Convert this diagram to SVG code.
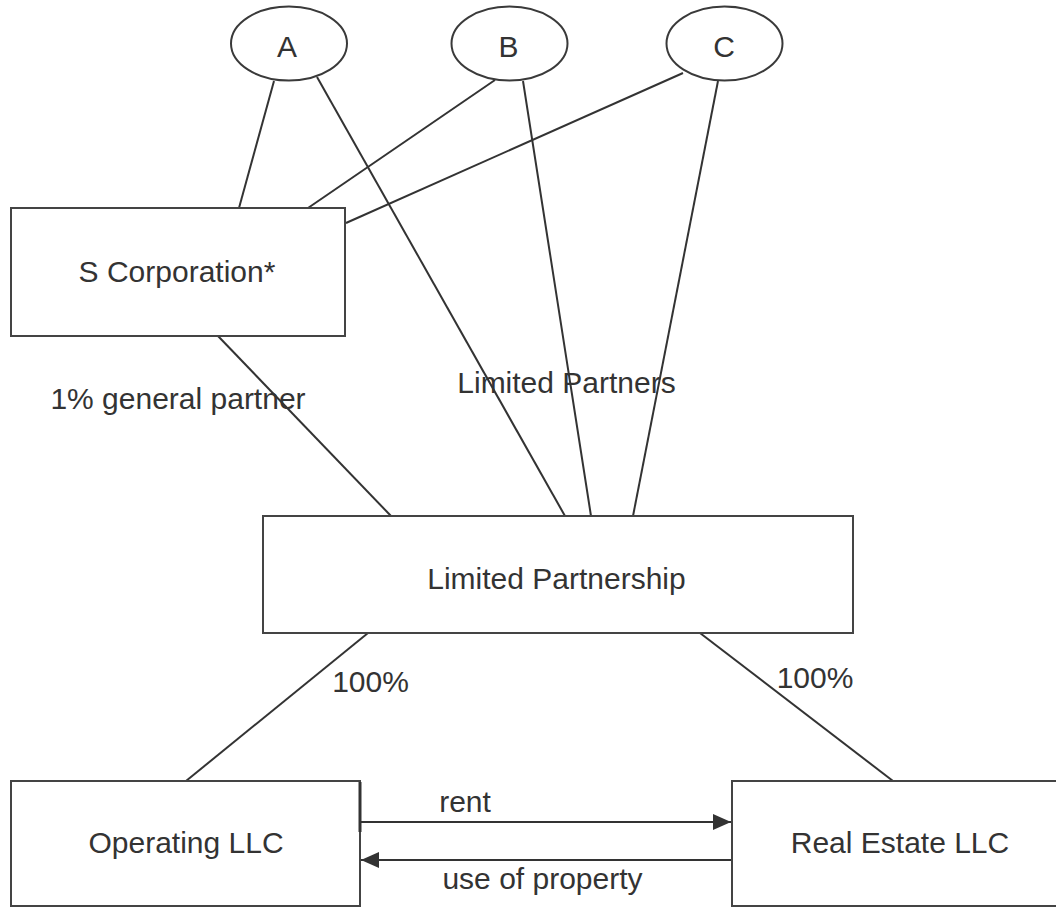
<svg xmlns="http://www.w3.org/2000/svg" width="1056" height="907" viewBox="0 0 1056 907">
  <style>
    .box { fill: #ffffff; stroke: #444444; stroke-width: 2; }
    .ell { fill: #ffffff; stroke: #3a3a3a; stroke-width: 2; }
    .ln { stroke: #333333; stroke-width: 2; fill: none; }
    .t { font-family: "Liberation Sans", Arial, sans-serif; font-size: 30px; fill: #333333; text-anchor: middle; }
  </style>
  <defs>
    <marker id="arrL" viewBox="0 0 18 18" refX="18" refY="9" markerWidth="18" markerHeight="18" markerUnits="userSpaceOnUse" orient="auto">
      <path d="M0,1 L18,9 L0,17 z" fill="#333333"/>
    </marker>
  </defs>
  <rect width="1056" height="907" fill="#ffffff"/>

  <g id="connectors">
    <line class="ln" x1="274" y1="81" x2="239" y2="208"/>
    <line class="ln" x1="317" y1="77" x2="565" y2="516"/>
    <line class="ln" x1="495" y1="80" x2="308" y2="208"/>
    <line class="ln" x1="523" y1="81" x2="591" y2="516"/>
    <line class="ln" x1="683" y1="73" x2="346" y2="223"/>
    <line class="ln" x1="718" y1="81" x2="633" y2="516"/>
    <line class="ln" x1="218" y1="336" x2="391" y2="516"/>
    <line class="ln" x1="368" y1="633" x2="186" y2="781"/>
    <line class="ln" x1="700" y1="633" x2="893" y2="781"/>
    <line class="ln" x1="361" y1="822" x2="596" y2="822" stroke-width="3.5"/>
    <line class="ln" x1="596" y1="822" x2="731" y2="822" marker-end="url(#arrL)"/>
    <line class="ln" x1="731" y1="860" x2="361" y2="860" marker-end="url(#arrL)"/>
  </g>

  <g id="node-a">
    <ellipse class="ell" cx="289" cy="43.5" rx="58" ry="37"/>
    <text class="t" x="287" y="57">A</text>
  </g>
  <g id="node-b">
    <ellipse class="ell" cx="509.5" cy="43.5" rx="58" ry="37"/>
    <text class="t" x="508.5" y="57">B</text>
  </g>
  <g id="node-c">
    <ellipse class="ell" cx="724.5" cy="43.5" rx="58" ry="37"/>
    <text class="t" x="724" y="57">C</text>
  </g>

  <g id="node-scorp">
    <rect class="box" x="11" y="208" width="334" height="128"/>
    <text class="t" x="177" y="282">S Corporation*</text>
  </g>

  <g id="node-lp">
    <rect class="box" x="263" y="516" width="590" height="117"/>
    <text class="t" x="556.5" y="589">Limited Partnership</text>
  </g>

  <g id="node-op">
    <rect class="box" x="11" y="781" width="349" height="125"/>
    <line x1="360" y1="782" x2="360" y2="832" stroke="#333333" stroke-width="3"/>
    <text class="t" x="186" y="853">Operating LLC</text>
  </g>

  <g id="node-re">
    <rect class="box" x="732" y="781" width="330" height="125"/>
    <text class="t" x="900" y="853">Real Estate LLC</text>
  </g>

  <g id="labels">
    <text class="t" x="178" y="409">1% general partner</text>
    <text class="t" x="566.5" y="393">Limited Partners</text>
    <text class="t" x="370.5" y="692">100%</text>
    <text class="t" x="815" y="688">100%</text>
    <text class="t" x="465" y="812">rent</text>
    <text class="t" x="542.5" y="889">use of property</text>
  </g>
</svg>
